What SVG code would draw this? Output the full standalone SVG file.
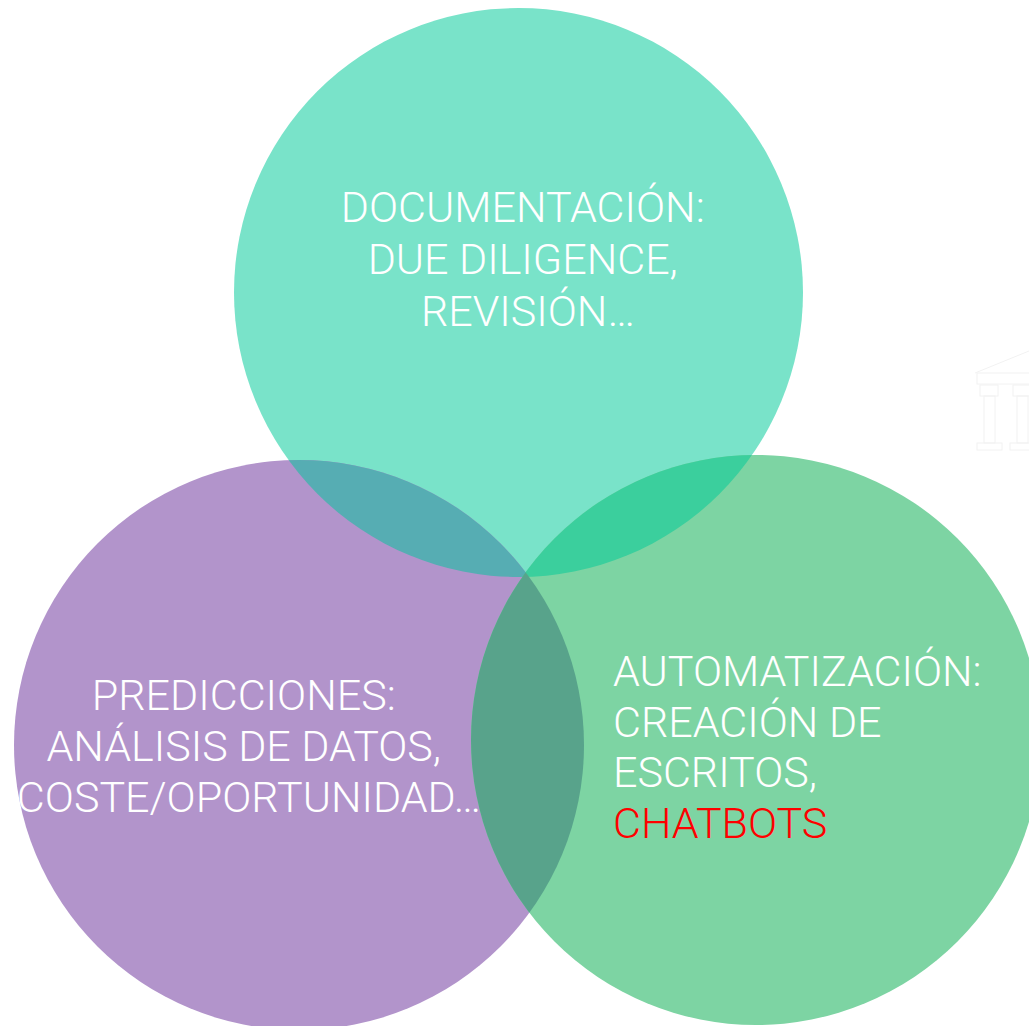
<svg xmlns="http://www.w3.org/2000/svg" width="1029" height="1026" viewBox="0 0 1029 1026">
  <style>
    .lbl { font-family: Roboto, "Liberation Sans", sans-serif; font-weight: 300; font-size: 43px; fill: #ffffff; }
    .red { fill: #ff0000; }
    .icon { fill: none; stroke: #f2f2f2; stroke-width: 1; }
  </style>
  <defs>
    <clipPath id="cTeal"><circle cx="518.5" cy="292.5" r="284.5"/></clipPath>
    <clipPath id="cPurple"><circle cx="299" cy="745" r="285"/></clipPath>
  </defs>
  <rect width="1029" height="1026" fill="#ffffff"/>
  <g id="icon" class="icon">
    <line x1="975" y1="373" x2="1029" y2="351"/>
    <rect x="977" y="373" width="60" height="11"/>
    <rect x="980" y="385" width="18" height="11"/>
    <rect x="984" y="396" width="11" height="47"/>
    <rect x="977" y="443" width="25" height="7"/>
    <rect x="1013" y="385" width="20" height="11"/>
    <rect x="1017" y="396" width="11" height="47"/>
    <rect x="1010" y="443" width="25" height="7"/>
  </g>
  <g id="node-documentacion">
    <circle cx="518.5" cy="292.5" r="284.5" fill="#79e3c9"/>
  </g>
  <g id="node-predicciones">
    <circle cx="299" cy="745" r="285" fill="#b294cb"/>
  </g>
  <g id="node-automatizacion">
    <circle cx="756" cy="740" r="285" fill="#7dd4a3"/>
  </g>
  <g id="overlaps">
    <circle cx="299" cy="745" r="285" fill="#56adb3" clip-path="url(#cTeal)"/>
    <circle cx="756" cy="740" r="285" fill="#3bcf9d" clip-path="url(#cTeal)"/>
    <circle cx="756" cy="740" r="285" fill="#58a38b" clip-path="url(#cPurple)"/>
  </g>
  <g id="labels">
    <text class="lbl" text-anchor="middle">
      <tspan x="528" y="222">DOCUMENTACIÓN:</tspan>
      <tspan x="528" y="274">DUE DILIGENCE,</tspan>
      <tspan x="528" y="326">REVISIÓN…</tspan>
    </text>
    <text class="lbl" text-anchor="middle">
      <tspan x="249" y="710">PREDICCIONES:</tspan>
      <tspan x="249" y="761">ANÁLISIS DE DATOS,</tspan>
      <tspan x="249" y="812">COSTE/OPORTUNIDAD…</tspan>
    </text>
    <text class="lbl">
      <tspan x="613" y="686">AUTOMATIZACIÓN:</tspan>
      <tspan x="613" y="737">CREACIÓN DE</tspan>
      <tspan x="613" y="787">ESCRITOS,</tspan>
      <tspan x="613" y="838" class="red">CHATBOTS</tspan>
    </text>
  </g>
</svg>
